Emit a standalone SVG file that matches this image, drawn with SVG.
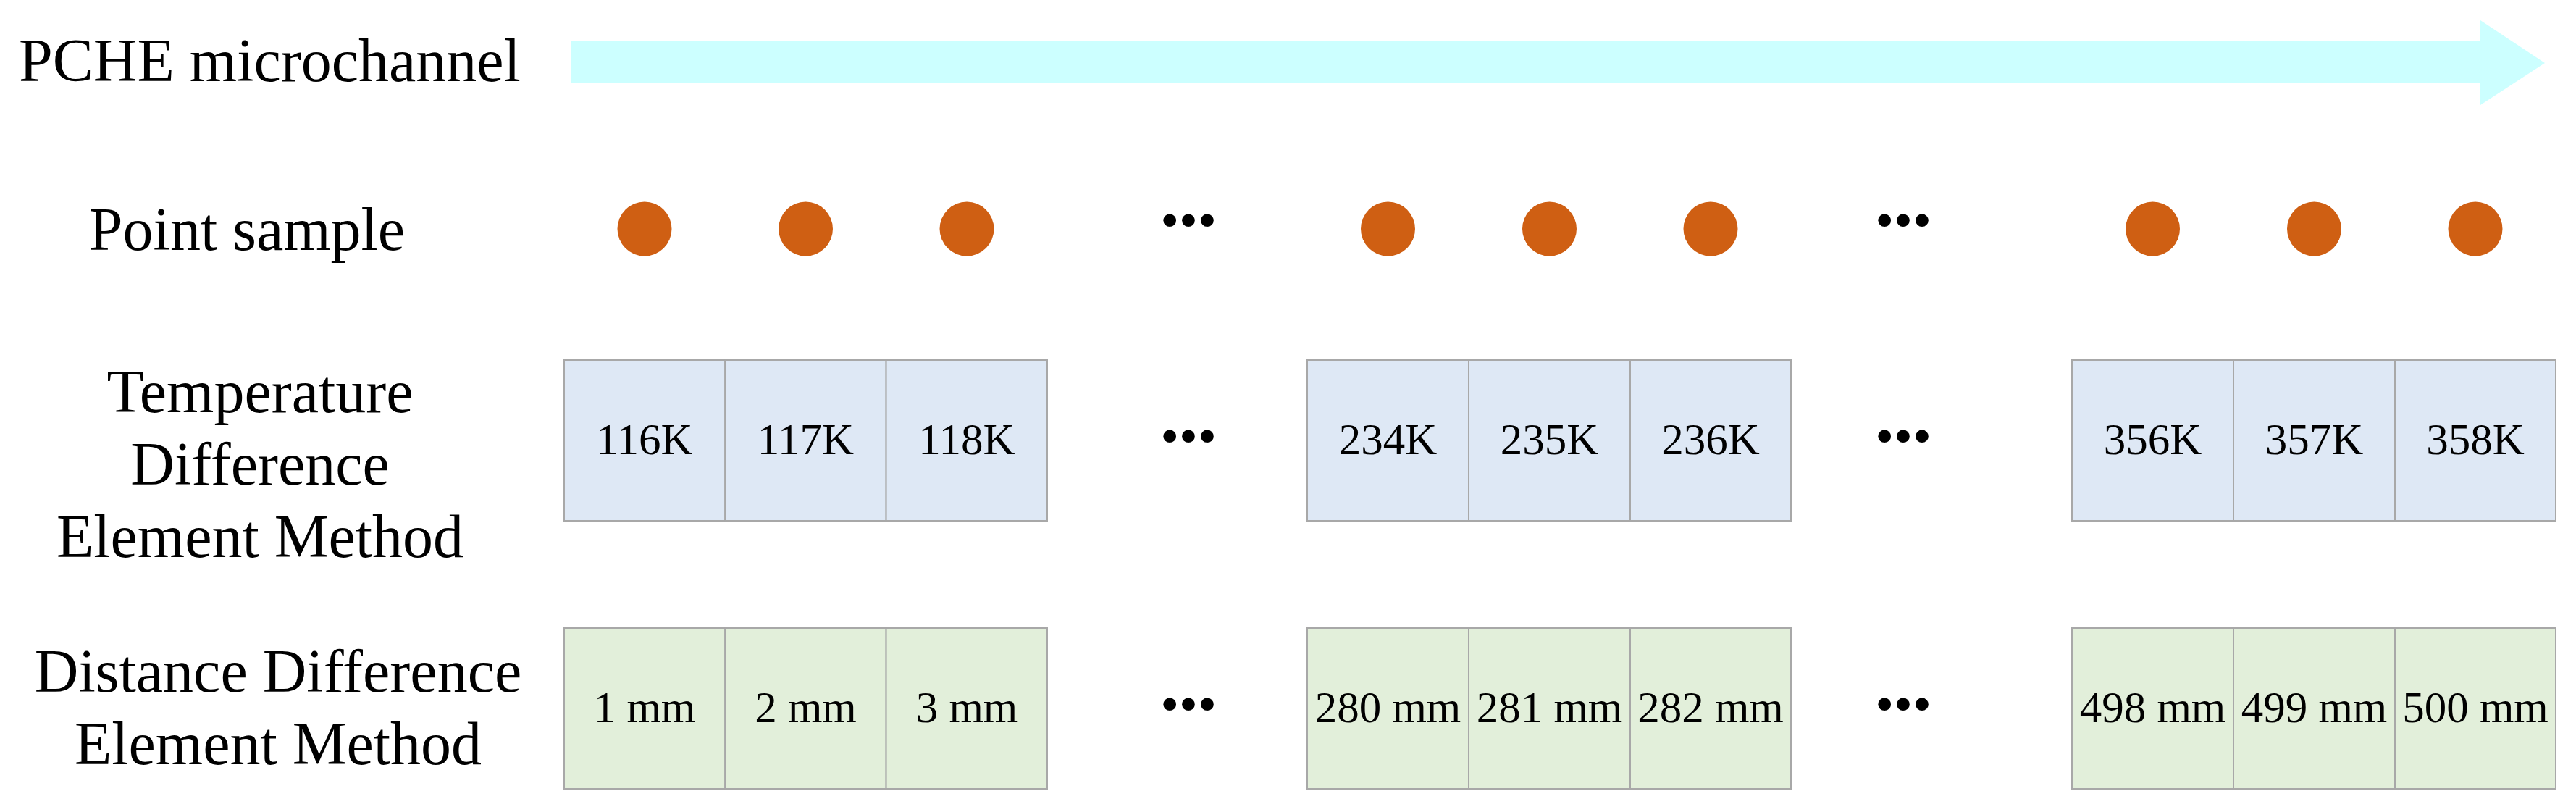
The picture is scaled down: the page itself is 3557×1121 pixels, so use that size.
<svg xmlns="http://www.w3.org/2000/svg" width="3557" height="1121" viewBox="0 0 3557 1121">
<style>
  .lbl { font-family: "Liberation Serif", "Times New Roman", serif; font-size: 84px; fill: #000; }
  .cell-t { font-family: "Liberation Serif", "Times New Roman", serif; font-size: 61px; fill: #000; text-anchor: middle; }
  .dots { font-family: "Liberation Serif", "Times New Roman", serif; font-size: 74px; fill: #000; text-anchor: middle; }
  .tcell { fill: #DEE8F5; stroke: #A8A8A8; stroke-width: 2; }
  .dcell { fill: #E2EFDA; stroke: #A8A8A8; stroke-width: 2; }
  .pt { fill: #CF5F13; }
</style>
<rect x="0" y="0" width="3557" height="1121" fill="#FFFFFF"/>

<g id="pche-label"><text class="lbl" x="26" y="112">PCHE microchannel</text></g>
<g id="pche-arrow"><polygon points="789,57 3425,57 3425,28 3514,87 3425,145 3425,115 789,115" fill="#CCFFFF"/></g>

<g id="point-label"><text class="lbl" x="341" y="345" text-anchor="middle">Point sample</text></g>
<g id="point-samples">
  <circle class="pt" cx="890" cy="316" r="37.5"/>
  <circle class="pt" cx="1112.5" cy="316" r="37.5"/>
  <circle class="pt" cx="1335" cy="316" r="37.5"/>
  <circle class="pt" cx="1916.5" cy="316" r="37.5"/>
  <circle class="pt" cx="2139.5" cy="316" r="37.5"/>
  <circle class="pt" cx="2362" cy="316" r="37.5"/>
  <circle class="pt" cx="2972.5" cy="316" r="37.5"/>
  <circle class="pt" cx="3195.5" cy="316" r="37.5"/>
  <circle class="pt" cx="3418" cy="316" r="37.5"/>
  <text class="dots" x="1641" y="329">•••</text>
  <text class="dots" x="2628" y="329">•••</text>
</g>

<g id="tdem-label">
  <text class="lbl" text-anchor="middle" x="359" y="569">Temperature</text>
  <text class="lbl" text-anchor="middle" x="359" y="669">Difference</text>
  <text class="lbl" text-anchor="middle" x="359" y="769">Element Method</text>
</g>
<g id="tdem-cells">
  <rect class="tcell" x="779" y="497" width="222.3" height="222"/>
  <rect class="tcell" x="1001.3" y="497" width="222.3" height="222"/>
  <rect class="tcell" x="1223.6" y="497" width="222.4" height="222"/>
  <text class="cell-t" x="890" y="627">116K</text>
  <text class="cell-t" x="1112.5" y="627">117K</text>
  <text class="cell-t" x="1335" y="627">118K</text>
  <text class="dots" x="1641" y="627">•••</text>
  <rect class="tcell" x="1805" y="497" width="223" height="222"/>
  <rect class="tcell" x="2028" y="497" width="223" height="222"/>
  <rect class="tcell" x="2251" y="497" width="222" height="222"/>
  <text class="cell-t" x="1916.5" y="627">234K</text>
  <text class="cell-t" x="2139.5" y="627">235K</text>
  <text class="cell-t" x="2362" y="627">236K</text>
  <text class="dots" x="2628" y="627">•••</text>
  <rect class="tcell" x="2861" y="497" width="223" height="222"/>
  <rect class="tcell" x="3084" y="497" width="223" height="222"/>
  <rect class="tcell" x="3307" y="497" width="222" height="222"/>
  <text class="cell-t" x="2972.5" y="627">356K</text>
  <text class="cell-t" x="3195.5" y="627">357K</text>
  <text class="cell-t" x="3418" y="627">358K</text>
</g>

<g id="ddem-label">
  <text class="lbl" text-anchor="middle" x="384" y="955">Distance Difference</text>
  <text class="lbl" text-anchor="middle" x="384" y="1055">Element Method</text>
</g>
<g id="ddem-cells">
  <rect class="dcell" x="779" y="867" width="222.3" height="222"/>
  <rect class="dcell" x="1001.3" y="867" width="222.3" height="222"/>
  <rect class="dcell" x="1223.6" y="867" width="222.4" height="222"/>
  <text class="cell-t" x="890" y="997">1 mm</text>
  <text class="cell-t" x="1112.5" y="997">2 mm</text>
  <text class="cell-t" x="1335" y="997">3 mm</text>
  <text class="dots" x="1641" y="997">•••</text>
  <rect class="dcell" x="1805" y="867" width="223" height="222"/>
  <rect class="dcell" x="2028" y="867" width="223" height="222"/>
  <rect class="dcell" x="2251" y="867" width="222" height="222"/>
  <text class="cell-t" x="1916.5" y="997">280 mm</text>
  <text class="cell-t" x="2139.5" y="997">281 mm</text>
  <text class="cell-t" x="2362" y="997">282 mm</text>
  <text class="dots" x="2628" y="997">•••</text>
  <rect class="dcell" x="2861" y="867" width="223" height="222"/>
  <rect class="dcell" x="3084" y="867" width="223" height="222"/>
  <rect class="dcell" x="3307" y="867" width="222" height="222"/>
  <text class="cell-t" x="2972.5" y="997">498 mm</text>
  <text class="cell-t" x="3195.5" y="997">499 mm</text>
  <text class="cell-t" x="3418" y="997">500 mm</text>
</g>
</svg>
